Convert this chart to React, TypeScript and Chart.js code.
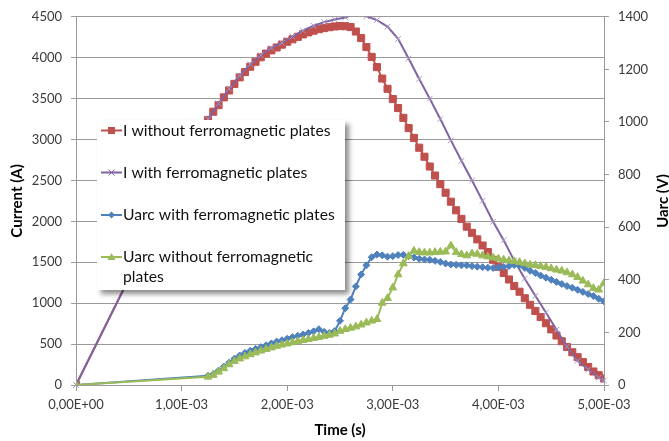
import React, { useEffect, useRef } from 'react';
import { Chart, registerables } from 'chart.js';

Chart.register(...registerables);

// ---- data (time in ms, current in A, voltage in V) ----
const xTickLabels = ['0,00E+00', '1,00E-03', '2,00E-03', '3,00E-03', '4,00E-03', '5,00E-03'];

const seriesLabels = [
  'I without ferromagnetic plates',
  'I with ferromagnetic plates',
  'Uarc with ferromagnetic plates',
  'Uarc without ferromagnetic plates',
];

const timeMs = [
  0,
  1.25, 1.3, 1.35, 1.4, 1.45, 1.5, 1.55, 1.6, 1.65, 1.7,
  1.75, 1.8, 1.85, 1.9, 1.95, 2.0, 2.05, 2.1, 2.15, 2.2,
  2.25, 2.3, 2.35, 2.4, 2.45, 2.5, 2.55, 2.6, 2.65, 2.7,
  2.75, 2.8, 2.85, 2.9, 2.95, 3.0, 3.05, 3.1, 3.15, 3.2,
  3.25, 3.3, 3.35, 3.4, 3.45, 3.5, 3.55, 3.6, 3.65, 3.7,
  3.75, 3.8, 3.85, 3.9, 3.95, 4.0, 4.05, 4.1, 4.15, 4.2,
  4.25, 4.3, 4.35, 4.4, 4.45, 4.5, 4.55, 4.6, 4.65, 4.7,
  4.75, 4.8, 4.85, 4.9, 4.95, 5.0,
];

const iWithout = [
  0,
  3240, 3340, 3420, 3515, 3600, 3680, 3760, 3825, 3890, 3950,
  4005, 4050, 4090, 4125, 4160, 4195, 4225, 4255, 4285, 4310,
  4330, 4348, 4362, 4373, 4382, 4387, 4385, 4375, 4320, 4240,
  4130, 4010, 3885, 3745, 3620, 3495, 3385, 3265, 3140, 3020,
  2900, 2790, 2670, 2560, 2455, 2350, 2240, 2135, 2030, 1935,
  1860, 1780, 1705, 1625, 1530, 1445, 1370, 1290, 1210, 1140,
  1060, 980, 905, 830, 755, 680, 605, 535, 465, 400,
  340, 280, 220, 165, 120, 80,
];

const uarcWith = [
  0,
  35, 42, 55, 70, 85, 100, 112, 122, 130, 137,
  144, 151, 158, 165, 170, 176, 182, 187, 192, 198,
  204, 212, 202, 198, 205, 244, 292, 325, 375, 420,
  455, 486, 496, 493, 488, 490, 494, 495, 490, 485,
  480, 477, 476, 472, 468, 462, 458, 457, 455, 455,
  452, 450, 448, 446, 445, 447, 449, 452, 456, 455,
  445, 434, 426, 416, 408, 400, 392, 384, 376, 370,
  362, 354, 346, 338, 328, 318,
];

const uarcWithout = [
  0,
  31, 38, 50, 63, 78, 90, 100, 108, 116, 123,
  130, 136, 142, 148, 153, 157, 162, 166, 170, 174,
  178, 182, 186, 190, 195, 205, 212, 217, 222, 229,
  237, 244, 250, 312, 330, 370, 420, 462, 490, 510,
  505, 503, 503, 505, 506, 507, 530, 505, 497, 492,
  500, 498, 492, 488, 484, 480, 476, 473, 470, 467,
  462, 457, 455, 452, 448, 443, 438, 434, 428, 420,
  410, 396, 382, 368, 362, 388,
];

const timeMsWith = [
  0, 1.25, 1.35, 1.45, 1.55, 1.65, 1.75, 1.85, 1.95, 2.05,
  2.15, 2.25, 2.35, 2.45, 2.55, 2.65, 2.75, 2.85, 2.95, 3.05,
  3.15, 3.25, 3.35, 3.45, 3.55, 3.65, 3.75, 3.85, 3.95, 4.05,
  4.15, 4.25, 4.35, 4.45, 4.55, 4.65, 4.75, 4.85, 4.95, 5.0,
];

const iWith = [
  0, 3250, 3440, 3620, 3780, 3920, 4030, 4120, 4180, 4260,
  4330, 4390, 4435, 4468, 4492, 4540, 4505, 4460, 4380, 4230,
  3990, 3740, 3500, 3250, 2990, 2740, 2500, 2250, 1995, 1770,
  1520, 1300, 1090, 885, 675, 470, 295, 190, 90, 55,
];

// ---- styles ----
const RED = '#C0504D';
const PURPLE = '#8064A2';
const BLUE = '#4F81BD';
const GREEN = '#9BBB59';
const GRID = '#9a9a9a';
const TICK_COLOR = '#3a3a3a';
const FONT = 'Lato';

const markerKinds = ['square', 'x', 'diamond', 'triangle'];
const seriesColors = [RED, PURPLE, BLUE, GREEN];

function toPoints(xs: number[], ys: number[]) {
  return xs.map((x, i) => ({ x, y: ys[i] }));
}

function drawMarker(ctx: CanvasRenderingContext2D, kind: string, x: number, y: number, color: string) {
  ctx.save();
  ctx.fillStyle = color;
  ctx.strokeStyle = color;
  ctx.lineWidth = 1;
  ctx.beginPath();
  if (kind === 'square') {
    ctx.rect(x - 3.5, y - 3.5, 7, 7);
    ctx.fill();
  } else if (kind === 'x') {
    ctx.moveTo(x - 3, y - 3);
    ctx.lineTo(x + 3, y + 3);
    ctx.moveTo(x + 3, y - 3);
    ctx.lineTo(x - 3, y + 3);
    ctx.stroke();
  } else if (kind === 'diamond') {
    ctx.moveTo(x, y - 3.5);
    ctx.lineTo(x + 3.5, y);
    ctx.lineTo(x, y + 3.5);
    ctx.lineTo(x - 3.5, y);
    ctx.closePath();
    ctx.fill();
  } else {
    ctx.moveTo(x, y - 4);
    ctx.lineTo(x + 4, y + 3);
    ctx.lineTo(x - 4, y + 3);
    ctx.closePath();
    ctx.fill();
  }
  ctx.restore();
}

const boxLegendPlugin = {
  id: 'boxLegend',
  afterDraw(chart: any) {
    const ctx: CanvasRenderingContext2D = chart.ctx;
    // legend box with drop shadow
    ctx.save();
    ctx.shadowColor = 'rgba(0,0,0,0.45)';
    ctx.shadowBlur = 5;
    ctx.shadowOffsetX = 4;
    ctx.shadowOffsetY = 4;
    ctx.fillStyle = '#ffffff';
    ctx.fillRect(97, 120, 248, 170);
    ctx.restore();

    const rowsY = [130.5, 172.5, 215, 257];
    ctx.save();
    ctx.font = `15.7px ${FONT}`;
    ctx.fillStyle = '#111';
    ctx.textBaseline = 'middle';
    ctx.textAlign = 'left';
    seriesLabels.forEach((label, i) => {
      const y = rowsY[i];
      ctx.save();
      ctx.strokeStyle = seriesColors[i];
      ctx.lineWidth = 2;
      ctx.beginPath();
      ctx.moveTo(101, y);
      ctx.lineTo(122, y);
      ctx.stroke();
      ctx.restore();
      drawMarker(ctx, markerKinds[i], 111.5, y, seriesColors[i]);
      if (i === 3) {
        ctx.fillText('Uarc without ferromagnetic', 123, y);
        ctx.fillText('plates', 123, y + 19.5);
      } else {
        ctx.fillText(label, 123, y);
      }
    });
    ctx.restore();

    // secondary axis title
    ctx.save();
    ctx.translate(663, 201);
    ctx.rotate(-Math.PI / 2);
    ctx.font = `bold 15px ${FONT}`;
    ctx.fillStyle = '#000';
    ctx.textAlign = 'center';
    ctx.textBaseline = 'middle';
    ctx.fillText('Uarc (V)', 0, 0);
    ctx.restore();
  },
};

export default function App() {
  const canvasRef = useRef<HTMLCanvasElement | null>(null);

  useEffect(() => {
    const canvas = canvasRef.current;
    if (!canvas) return;
    const tickFont = { family: FONT, size: 13 };
    const titleFont = { family: FONT, size: 15, weight: 'bold' as const };
    const plain = (v: any) => String(v);

    const chart = new Chart(canvas, {
      type: 'line',
      data: {
        datasets: [
          {
            label: seriesLabels[0],
            data: toPoints(timeMs, iWithout),
            yAxisID: 'y',
            borderColor: RED,
            backgroundColor: RED,
            borderWidth: 2,
            pointStyle: 'rect',
            pointRadius: 5,
            pointBorderWidth: 1,
            pointBackgroundColor: RED,
            pointBorderColor: RED,
            tension: 0,
            order: 4,
          },
          {
            label: seriesLabels[1],
            data: toPoints(timeMsWith, iWith),
            yAxisID: 'y',
            borderColor: PURPLE,
            backgroundColor: PURPLE,
            borderWidth: 2,
            pointStyle: 'crossRot',
            pointRadius: 4,
            pointBorderWidth: 1,
            pointBorderColor: '#a996c4',
            tension: 0,
            order: 3,
            clip: { left: 10, top: 0, right: 10, bottom: 10 },
          },
          {
            label: seriesLabels[2],
            data: toPoints(timeMs, uarcWith),
            yAxisID: 'y1',
            borderColor: BLUE,
            backgroundColor: BLUE,
            borderWidth: 2,
            pointStyle: 'rectRot',
            pointRadius: 3.5,
            pointBorderWidth: 1,
            pointBackgroundColor: BLUE,
            pointBorderColor: BLUE,
            tension: 0,
            order: 2,
          },
          {
            label: seriesLabels[3],
            data: toPoints(timeMs, uarcWithout),
            yAxisID: 'y1',
            borderColor: GREEN,
            backgroundColor: GREEN,
            borderWidth: 2,
            pointStyle: 'triangle',
            pointRadius: 4.5,
            pointBorderWidth: 1,
            pointBackgroundColor: GREEN,
            pointBorderColor: GREEN,
            tension: 0,
            order: 1,
          },
        ],
      },
      options: {
        animation: false,
        responsive: false,
        devicePixelRatio: 1,
        layout: { padding: { top: 12, left: 0, right: 0, bottom: 0 } },
        plugins: {
          legend: { display: false },
          tooltip: { enabled: false },
        },
        scales: {
          x: {
            type: 'linear',
            min: 0,
            max: 5,
            ticks: {
              stepSize: 1,
              autoSkip: false,
              maxRotation: 0,
              padding: 6,
              font: tickFont,
              color: TICK_COLOR,
              callback: (v: any) => xTickLabels[Math.round(Number(v))] ?? '',
            },
            grid: { drawOnChartArea: false, tickLength: 6, color: GRID },
            border: { color: GRID },
            title: {
              display: true,
              text: 'Time (s)',
              font: titleFont,
              color: '#000',
              padding: { top: 0, bottom: 2 },
            },
            afterFit: (s: any) => {
              s.height = 56;
            },
          },
          y: {
            position: 'left',
            min: 0,
            max: 4500,
            ticks: { stepSize: 500, padding: 9, font: tickFont, color: TICK_COLOR, callback: plain },
            grid: { color: GRID, tickLength: 5 },
            border: { color: GRID },
            title: {
              display: true,
              text: 'Current (A)',
              font: titleFont,
              color: '#000',
              padding: { top: 8, bottom: 0 },
            },
            afterFit: (s: any) => {
              s.width = 76;
            },
          },
          y1: {
            position: 'right',
            min: 0,
            max: 1400,
            ticks: { stepSize: 200, padding: 9, font: tickFont, color: TICK_COLOR, callback: plain },
            grid: { drawOnChartArea: false, tickLength: 5, color: GRID },
            border: { color: GRID },
            afterFit: (s: any) => {
              s.width = 65;
            },
          },
        },
      } as any,
      plugins: [boxLegendPlugin],
    });

    return () => {
      chart.destroy();
    };
  }, []);

  return (
    <div style={{ position: 'absolute', left: 0, top: 0, width: 669, height: 441, background: '#fff' }}>
      <canvas ref={canvasRef} width={669} height={441} />
    </div>
  );
}
